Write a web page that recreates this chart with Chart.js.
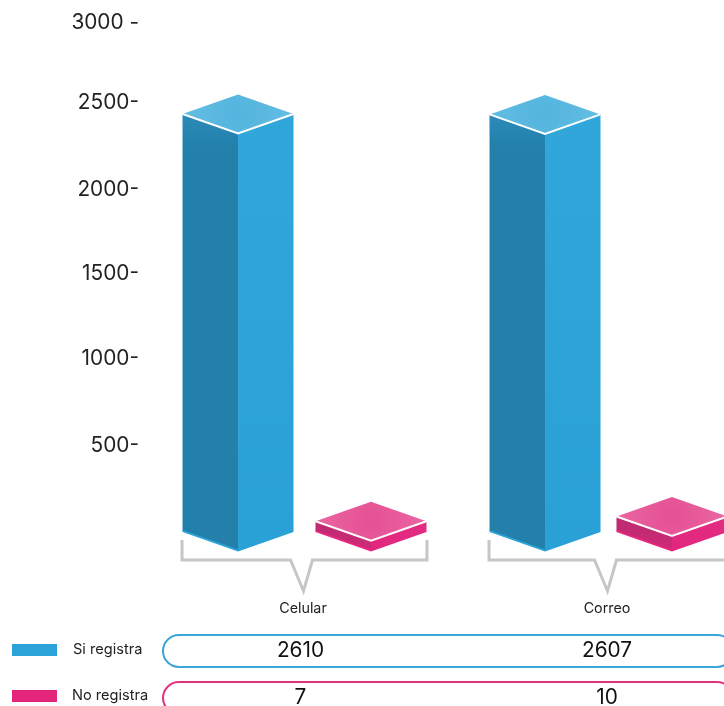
<!DOCTYPE html>
<html lang="es">
<head>
<meta charset="utf-8">
<title>Registro por medio de contacto</title>
<script src="https://cdn.jsdelivr.net/npm/chart.js@4"></script>
<style>
html,body{margin:0;padding:0;background:#fff;width:724px;height:706px;overflow:hidden}
canvas{display:block}
</style>
</head>
<body>
<canvas id="c" width="800" height="706"></canvas>
<script>
const categories = ['Celular', 'Correo'];
const siRegistra = [2610, 2607];
const noRegistra = [7, 10];
const axisTicks = [500, 1000, 1500, 2000, 2500, 3000];
const seriesNames = ['Si registra', 'No registra'];

const FONT = 'Inter, "Noto Sans", sans-serif';
const BLUE = '#2ba2d8', PINK = '#e3267c';
const FACES = {
  [BLUE]: {left0:'#2b8ab8', left1:'#2280aa', leftStop:0.08, right0:'#30a6da', right1:'#2aa1d6', top0:'#62bde3', top1:'#55b5de', bottom:'#2ba2d8'},
  [PINK]: {left0:'#bb2b70', left1:'#cf2a78', leftStop:1, right0:'#e22c80', right1:'#e3267f', top0:'#ea66a2', top1:'#e55295', bottom:'#e8267f'}
};
const DIAMOND = 19.5;
// The source spaces its axis labels unevenly: small pixel shifts per tick.
const tickShift = {500:-1, 1000:-3, 1500:-3, 2000:-2, 2500:-4, 3000:1};
// Table values sit slightly left of the first category centre in the source.
const valueShift = [-2.5, 0];

class UnevenScale extends Chart.LinearScale {
  getPixelForValue(v){ return super.getPixelForValue(v) + (tickShift[v] || 0); }
}
UnevenScale.id = 'uneven';
UnevenScale.defaults = Chart.LinearScale.defaults;
Chart.register(UnevenScale);

// Bars are drawn as isometric blocks from the element geometry computed by the scales.
Chart.BarElement.prototype.draw = function(ctx){
  const f = FACES[this.options.backgroundColor];
  const x = this.x, w = this.width, top = this.y, base = this.base, d = DIAMOND;
  const L = x - w/2, R = x + w/2;
  const poly = (pts, fill) => {
    ctx.beginPath();
    pts.forEach((p,i)=> i ? ctx.lineTo(p[0],p[1]) : ctx.moveTo(p[0],p[1]));
    ctx.closePath(); ctx.fillStyle = fill; ctx.fill();
  };
  ctx.save();
  let g = ctx.createLinearGradient(0, top, 0, Math.max(base+d-1, top+1));
  g.addColorStop(0, f.left0); g.addColorStop(f.leftStop, f.left1); g.addColorStop(1, f.left1);
  poly([[L,top],[x,top+d],[x,base+d-1],[L,base-1]], g);
  // bright bottom rim of the left face
  poly([[L,base-2],[x,base+d-2],[x,base+d],[L,base]], f.bottom);
  g = ctx.createLinearGradient(0, top, 0, base+d);
  g.addColorStop(0, f.right0); g.addColorStop(1, f.right1);
  poly([[x,top+d],[R,top],[R,base],[x,base+d]], g);
  g = ctx.createRadialGradient(x, top, 4, x, top, w/2);
  g.addColorStop(0, f.top1); g.addColorStop(1, f.top0);
  poly([[L,top],[x,top-d],[R,top],[x,top+d]], g);
  ctx.beginPath();
  ctx.moveTo(L,top); ctx.lineTo(x,top+d); ctx.lineTo(R,top);
  ctx.strokeStyle = '#fff'; ctx.lineWidth = 2; ctx.lineJoin='miter'; ctx.stroke();
  ctx.restore();
};

const nudgeBars = {
  id:'nudgeBars',
  afterDatasetsUpdate(chart){
    // the two pairs are not spaced identically in the source
    chart.getDatasetMeta(1).data[0].x += 3;
    chart.getDatasetMeta(0).data[1].x += 3;
  }
};

const extras = {
  id:'extras',
  afterDraw(chart){
    const ctx = chart.ctx, xs = chart.scales.x;
    const m0 = chart.getDatasetMeta(0).data, m1 = chart.getDatasetMeta(1).data;
    ctx.save();
    // brackets
    ctx.strokeStyle = '#c6c6c6'; ctx.lineWidth = 3; ctx.lineJoin='miter';
    categories.forEach((c,i)=>{
      const l = m0[i].x - m0[i].width/2 - 0.5, r = m1[i].x + m1[i].width/2 + 0.5;
      const mid = (l+r)/2;
      ctx.beginPath();
      ctx.moveTo(l,540); ctx.lineTo(l,560); ctx.lineTo(mid-14,560);
      ctx.lineTo(mid-1,591); ctx.lineTo(mid+8,560); ctx.lineTo(r,560); ctx.lineTo(r,540);
      ctx.stroke();
    });
    // legend + table rows
    const rows = [
      {name:seriesNames[0], color:BLUE, stroke:'#3aa6da', vals:siRegistra, swY:644, txtY:650, pillY:635, lx:73},
      {name:seriesNames[1], color:PINK, stroke:'#e3327f', vals:noRegistra, swY:690, txtY:696, pillY:682, lx:72}
    ];
    rows.forEach(r=>{
      ctx.fillStyle = r.color; ctx.fillRect(12, r.swY, 45, 12);
      ctx.fillStyle = '#222'; ctx.font = '14.6px '+FONT; ctx.textAlign='left'; ctx.textBaseline='middle';
      ctx.fillText(r.name, r.lx, r.txtY);
      ctx.beginPath(); ctx.roundRect(163, r.pillY, 570, 32, 16);
      ctx.strokeStyle = r.stroke; ctx.lineWidth = 2; ctx.stroke();
      ctx.fillStyle = '#111'; ctx.font = '20.8px '+FONT; ctx.textAlign='center';
      r.vals.forEach((v,i)=> ctx.fillText(String(v), xs.getPixelForValue(i) + valueShift[i], r.pillY+16));
    });
    ctx.restore();
  }
};

new Chart(document.getElementById('c'), {
  type:'bar',
  data:{
    labels:categories,
    datasets:[
      {label:seriesNames[0], data:siRegistra, backgroundColor:BLUE, yAxisID:'yBlue', clip:false},
      {label:seriesNames[1], data:noRegistra, backgroundColor:PINK, yAxisID:'yPink', clip:false}
    ]
  },
  options:{
    responsive:false,
    animation:false,
    events:[],
    categoryPercentage:0.855,
    barPercentage:0.854,
    layout:{padding:{top:22,right:41,left:0,bottom:0}},
    plugins:{legend:{display:false},tooltip:{enabled:false}},
    scales:{
      x:{
        grid:{display:false,drawTicks:false}, border:{display:false},
        ticks:{padding:68.5,color:'#222',font:{family:FONT,size:14.3},maxRotation:0,autoSkip:false},
        afterFit(s){ s.height = 174; }
      },
      y:{
        type:'uneven', min:0, max:3000, position:'left',
        grid:{display:false,drawTicks:false}, border:{display:false},
        afterBuildTicks(s){ s.ticks = axisTicks.map(v=>({value:v})); },
        ticks:{
          padding:12, color:'#222', font:{family:FONT,size:20.8},
          callback:v => v === 3000 ? v + ' -' : v + '-'
        },
        afterFit(s){ s.width = 151; s.paddingTop = 0; s.paddingBottom = 0; }
      },
      yBlue:{display:false,min:0,max:3184, afterFit(s){ s.paddingTop = 0; s.paddingBottom = 0; }},
      yPink:{display:false,min:0,max:330, afterFit(s){ s.paddingTop = 0; s.paddingBottom = 0; }}
    }
  },
  plugins:[nudgeBars,extras]
});
</script>
</body>
</html>
